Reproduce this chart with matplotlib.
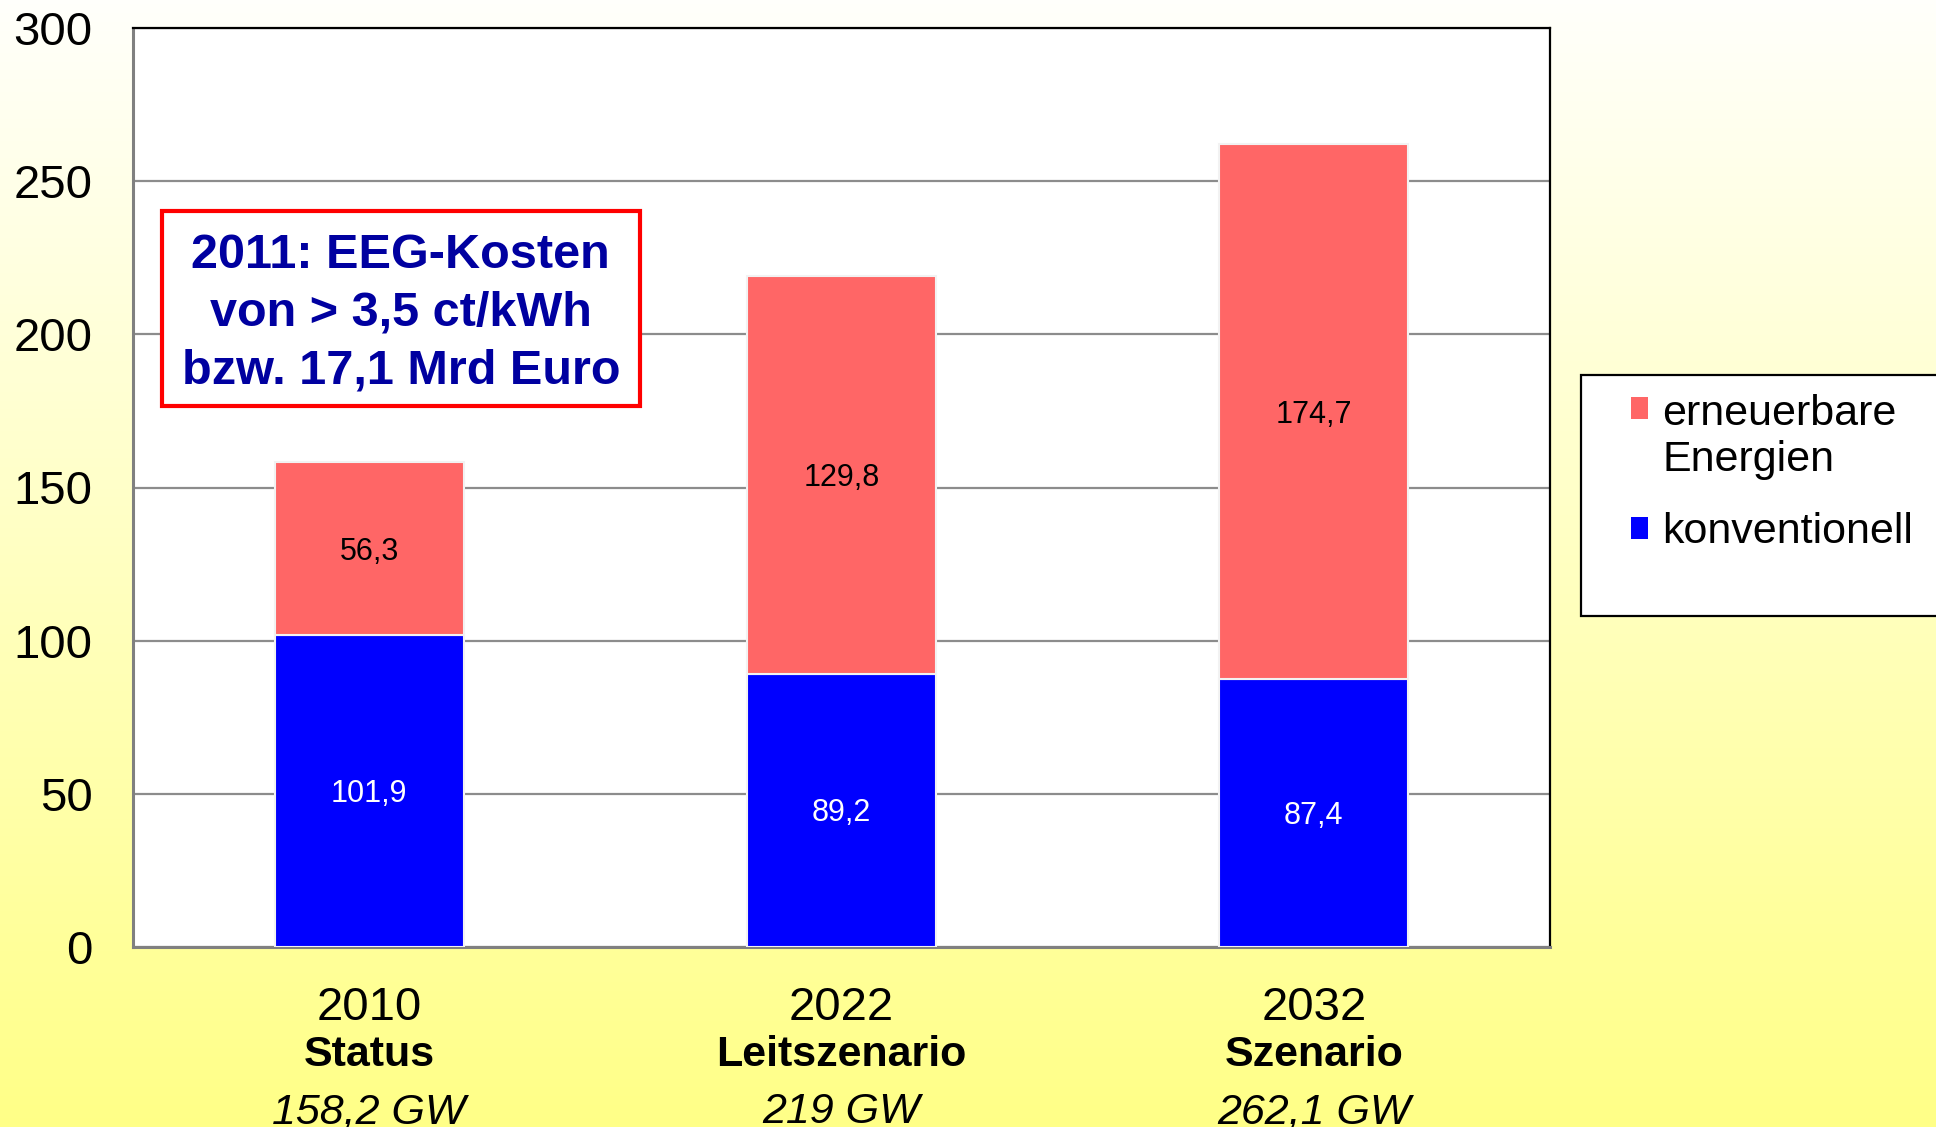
import numpy as np
import matplotlib
matplotlib.use("Agg")
import matplotlib.pyplot as plt
from matplotlib.patches import Patch, Rectangle
from matplotlib.legend_handler import HandlerPatch

# data
years = ["2010", "2022", "2032"]
scenarios = ["Status", "Leitszenario", "Szenario"]
totals = ["158,2 GW", "219 GW", "262,1 GW"]
konventionell = [101.9, 89.2, 87.4]
erneuerbar = [56.3, 129.8, 174.7]
y_ticks = [0, 50, 100, 150, 200, 250, 300]

plt.rcParams["font.family"] = ["Liberation Sans", "DejaVu Sans"]


# legend marker that sits on the first line of a two-line label
class RaisedPatch(HandlerPatch):
    def __init__(self, dy, **kw):
        super().__init__(**kw)
        self.dy = dy

    def create_artists(self, legend, orig_handle, xdescent, ydescent,
                       width, height, fontsize, trans):
        return super().create_artists(legend, orig_handle, xdescent,
                                      ydescent - self.dy, width, height,
                                      fontsize, trans)


fig = plt.figure(figsize=(19.36, 11.27), dpi=100)

# background gradient (white at top -> yellow at bottom)
bg = fig.add_axes([0, 0, 1, 1], zorder=-10)
grad = np.linspace(0, 1, 256).reshape(-1, 1)
top = np.array([1.0, 1.0, 0.985])
bottom = np.array([1.0, 1.0, 0.53])
img = top + (bottom - top) * grad[:, :, None] * np.ones((1, 2, 1))
bg.imshow(img, aspect="auto", extent=[0, 1, 0, 1])
bg.axis("off")

ax = fig.add_axes([133 / 1936, 1 - 947 / 1127, 1417 / 1936, 919 / 1127])
ax.set_facecolor("white")

x = np.arange(len(years))
ax.bar(x, konventionell, width=0.4, color="#0000FF",
       edgecolor="#F2F2F2", linewidth=1.5, zorder=3)
ax.bar(x, erneuerbar, width=0.4, bottom=konventionell, color="#FF6666",
       edgecolor="#F2F2F2", linewidth=1.5, zorder=3)

# value labels inside the bars
for i in range(len(years)):
    ax.text(x[i], konventionell[i] / 2 - 1, f"{konventionell[i]:.1f}".replace(".", ","),
            ha="center", va="center", fontsize=22, color="white", zorder=4)
    ax.text(x[i], konventionell[i] + erneuerbar[i] / 2 - 1,
            f"{erneuerbar[i]:.1f}".replace(".", ","),
            ha="center", va="center", fontsize=22, color="black", zorder=4)

ax.set_xlim(-0.5, 2.5)
ax.set_ylim(0, 300)
ax.set_yticks(y_ticks)
ax.set_yticklabels([str(t) for t in y_ticks], fontsize=34)
ax.tick_params(axis="y", length=0, pad=29)
ax.set_xticks([])
ax.yaxis.grid(True, color="#8C8C8C", linewidth=1.6, zorder=0)
ax.set_axisbelow(True)

for s in ["top", "right"]:
    ax.spines[s].set_color("black")
    ax.spines[s].set_linewidth(1.6)
for s in ["left", "bottom"]:
    ax.spines[s].set_color("#808080")
    ax.spines[s].set_linewidth(2.2)

# category labels below the axis (the last line is cut by the bottom edge,
# as in the original slide)
tr = ax.get_xaxis_transform()
for i in range(len(years)):
    ax.text(x[i], -0.066, years[i], transform=tr, ha="center", va="center",
            fontsize=34)
    ax.text(x[i], -0.117, scenarios[i], transform=tr, ha="center", va="center",
            fontsize=31, fontweight="bold")
    ax.text(x[i], -0.180, totals[i], transform=tr, ha="center", va="center",
            fontsize=31, fontstyle="italic", clip_on=False)

# annotation box
ax.add_patch(Rectangle((0.0205, 0.589), 0.3375, 0.212, transform=ax.transAxes,
                       facecolor="white", edgecolor="#FF0000", linewidth=3,
                       zorder=5))
ax.text(0.189, 0.6895, "2011: EEG-Kosten\nvon > 3,5 ct/kWh\nbzw. 17,1 Mrd Euro",
        transform=ax.transAxes, ha="center", va="center", fontsize=35,
        fontweight="bold", color="#0000A0", linespacing=1.36, zorder=6)

# legend with its own frame
fig.patches.append(Rectangle((1581 / 1936, 1 - 616 / 1127), 0.2, 241 / 1127,
                             transform=fig.transFigure, facecolor="white",
                             edgecolor="black", linewidth=1.6, zorder=1))
handles = [Patch(facecolor="#FF6666"), Patch(facecolor="#0000FF")]
leg = fig.legend(handles, ["erneuerbare\nEnergien", "konventionell"],
                 loc="upper left", bbox_to_anchor=(1631 / 1936, 1 - 394 / 1127),
                 frameon=False, fontsize=31, handlelength=0.4, handleheight=0.4,
                 handletextpad=0.33, labelspacing=0.75, borderpad=0,
                 borderaxespad=0,
                 handler_map={handles[0]: RaisedPatch(dy=21)})
for t in leg.get_texts():
    t.set_linespacing(1.2)
leg.set_zorder(2)

fig.savefig("out.png", dpi=100)
